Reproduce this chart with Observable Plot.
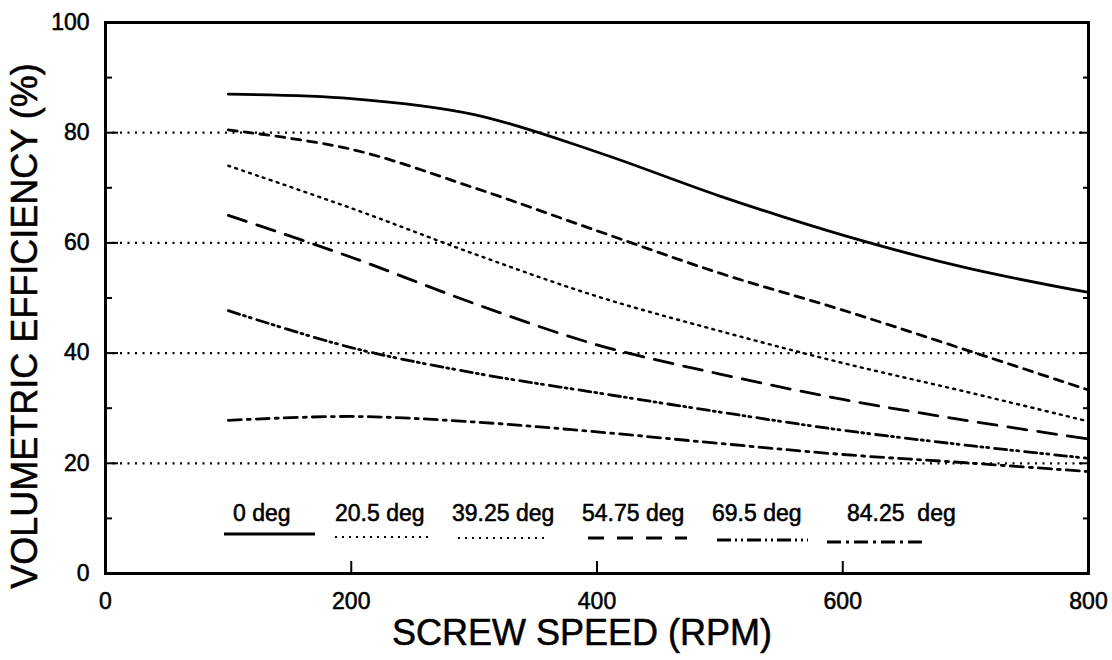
<!DOCTYPE html>
<html><head><meta charset="utf-8">
<script src="https://cdn.jsdelivr.net/npm/d3@7"></script>
<script src="https://cdn.jsdelivr.net/npm/@observablehq/plot@0.6"></script>
<style>
html,body{margin:0;padding:0;background:#fff;}
#wrap{position:relative;width:1112px;height:660px;}
svg text{stroke:#000;stroke-width:0.55px;}
</style></head><body>
<div id="wrap"></div>
<script>
// ---- data ----
const rpm = [100, 200, 300, 400, 500, 600, 700, 800];
const seriesNames = ["0 deg", "20.5 deg", "39.25 deg", "54.75 deg", "69.5 deg", "84.25  deg"];
const eff0deg    = [87.0, 86.2, 83.3, 76.5, 68.5, 61.4, 55.5, 51.0];
const eff20_5deg = [80.5, 77.0, 70.0, 62.2, 54.5, 47.8, 40.6, 33.3];
const eff39_25deg= [74.0, 66.3, 58.0, 50.3, 44.0, 38.2, 33.0, 27.6];
const eff54_75deg= [65.0, 57.4, 49.0, 41.5, 36.2, 31.6, 27.8, 24.4];
const eff69_5deg = [47.7, 41.0, 36.4, 32.8, 29.3, 26.0, 23.3, 20.9];
const eff84_25deg= [27.8, 28.5, 27.5, 25.7, 23.6, 21.6, 20.1, 18.5];
const allSeries = [eff0deg, eff20_5deg, eff39_25deg, eff54_75deg, eff69_5deg, eff84_25deg];
const xTicks = [0, 200, 400, 600, 800];
const yTicks = [0, 20, 40, 60, 80, 100];
const yGrid = [20, 40, 60, 80];
const yMinor = [10, 30, 50, 70, 90];
const xInner = [200, 400, 600];
const xTitle = "SCREW SPEED (RPM)";
const yTitle = "VOLUMETRIC EFFICIENCY (%)";

// ---- styles ----
const lineStyles = [
  {dash: null, width: 2.8},
  {dash: "9,7", width: 2.8},
  {dash: "2,5.3", width: 2.4},
  {dash: "19,11", width: 2.8},
  {dash: "12,4,2,4,2,6", width: 2.8},
  {dash: "13,6,3,6", width: 2.8}
];
const legendStyles = [
  {dash: null, width: 3},
  {dash: "2,5", width: 2.2},
  {dash: "2,5", width: 2.2},
  {dash: "16,13", width: 2.8},
  {dash: "14,4,2,4,2,4", width: 2.8},
  {dash: "14,5,3,5", width: 2.8}
];
const legendLayout = [
  {tx: 233, x1: 224, x2: 315, y: 534},
  {tx: 335, x1: 335, x2: 430, y: 537},
  {tx: 452, x1: 458, x2: 547, y: 538},
  {tx: 582, x1: 588, x2: 687, y: 538},
  {tx: 712, x1: 717, x2: 808, y: 540},
  {tx: 847, x1: 827, x2: 923, y: 542}
];
const legendBaseline = 521;
const font = "'Liberation Sans', Arial, Helvetica, sans-serif";

const lineMarks = allSeries.map((vals, i) =>
  Plot.line(rpm.map((x, j) => ({x, y: vals[j]})), {
    x: "x", y: "y", curve: "catmull-rom", stroke: "#000",
    strokeWidth: lineStyles[i].width,
    strokeDasharray: lineStyles[i].dash
  })
);

const plot = Plot.plot({
  width: 1112, height: 660,
  marginLeft: 105, marginRight: 24, marginTop: 22, marginBottom: 87,
  style: {fontFamily: font, fontSize: "23px", color: "#000", background: "#fff"},
  x: {domain: [0, 800]},
  y: {domain: [0, 100]},
  marks: [
    Plot.gridY(yGrid, {stroke: "#000", strokeOpacity: 1, strokeWidth: 2.2, strokeDasharray: "2,5.5"}),
    ...lineMarks,
    Plot.frame({stroke: "#000", strokeWidth: 3}),
    Plot.axisY(yTicks, {anchor: "left", tickSize: 0, tickPadding: 16, label: null}),
    Plot.axisY(yGrid, {anchor: "left", tickSize: -13, tickFormat: () => "", label: null, strokeWidth: 2}),
    Plot.axisY(yMinor, {anchor: "left", tickSize: -7, tickFormat: () => "", label: null, strokeWidth: 2}),
    Plot.axisY(yGrid, {anchor: "right", tickSize: -10, tickFormat: () => "", label: null, strokeWidth: 2}),
    Plot.axisY(yMinor, {anchor: "right", tickSize: -6, tickFormat: () => "", label: null, strokeWidth: 2}),
    Plot.axisX(xTicks, {anchor: "bottom", tickSize: 0, tickPadding: 19, label: null}),
    Plot.axisX(xInner, {anchor: "bottom", tickSize: -12, tickFormat: () => "", label: null, strokeWidth: 2}),
    Plot.text([yTitle], {text: d => d, frameAnchor: "left", textAnchor: "middle", lineAnchor: "middle", rotate: -90, dx: -80, dy: 28, fontSize: 36}),
    Plot.text([xTitle], {text: d => d, frameAnchor: "bottom", textAnchor: "middle", lineAnchor: "middle", dx: -15, dy: 60, fontSize: 36})
  ]
});
document.getElementById("wrap").appendChild(plot);

// ---- legend (inside the plot area) ----
const svg = d3.select(plot);
const lg = svg.append("g").attr("class", "legend").attr("text-anchor", "start");
seriesNames.forEach((name, i) => {
  const L = legendLayout[i], S = legendStyles[i];
  lg.append("text")
    .attr("x", L.tx).attr("y", legendBaseline)
    .attr("text-anchor", "start")
    .attr("font-family", font).attr("font-size", 23)
    .attr("fill", "#000")
    .style("white-space", "pre")
    .attr("xml:space", "preserve")
    .text(name);
  lg.append("line")
    .attr("x1", L.x1).attr("x2", L.x2).attr("y1", L.y).attr("y2", L.y)
    .attr("stroke", "#000").attr("stroke-width", S.width)
    .attr("stroke-dasharray", S.dash);
});
</script>
</body></html>
